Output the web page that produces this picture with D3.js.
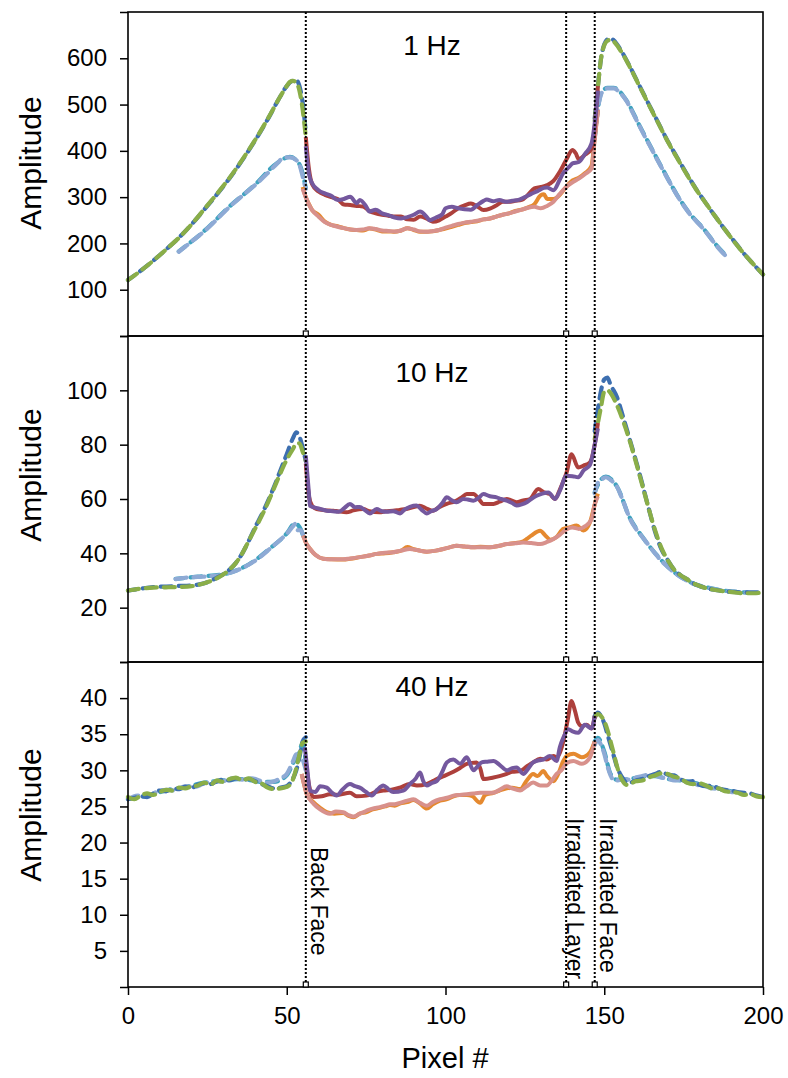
<!DOCTYPE html>
<html><head><meta charset="utf-8">
<script src="https://cdn.jsdelivr.net/npm/d3@7"></script>
<style>body{margin:0;background:#fff}svg{display:block}text{font-family:"Liberation Sans",Arial,sans-serif;fill:#000}</style>
</head><body>
<script>
// ---------- data ----------
const pixelTicks = [0, 50, 100, 150, 200];
const ampTicks1 = [100, 200, 300, 400, 500, 600];
const ampTicks2 = [20, 40, 60, 80, 100];
const ampTicks3 = [5, 10, 15, 20, 25, 30, 35, 40];
const panelTitles = ["1 Hz", "10 Hz", "40 Hz"];
const markerPixels = [56, 138, 147];
const markerLabels = ["Back Face", "Irradiated Layer", "Irradiated Face"];
const G = [null, null]; // gap marker

// 1 Hz
const blue1 = [[0,121],[4,141],[8,163],[12,187],[16,212],[20,241],[24,273],[28,306],[32,341],[36,380],[40,422],[44,468],[48,518],[50,540],[52,552],[53,553],[54,540],[55,505],[56,440],G,
 [147,470],[148,540],[149,600],[150,630],[151,641],[152,643],[153,639],[155,620],[158,583],[161,542],[164,501],[167,461],[170,421],[173,385],[176,350],[179,317],[182,287],[185,258],[188,230],[191,204],[194,178],[197,155],[200,133]];
const green1 = [[0,121],[4,141],[8,163],[12,187],[16,212],[20,241],[24,274],[28,307],[32,342],[36,381],[40,423],[44,469],[48,518],[50,540],[51,549],[52,551],[53,548],[54,530],[55,490],[56,430],G,
 [147,465],[148,538],[149,600],[150,628],[151,638],[152,640],[153,636],[155,618],[158,582],[161,541],[164,500],[167,460],[170,420],[173,384],[176,349],[179,316],[182,287],[185,258],[188,230],[191,203],[194,178],[197,155],[200,133]];
const light1 = [[16,182],[20,204],[24,226],[28,252],[32,279],[36,303],[40,326],[44,352],[47,373],[49,385],[51,386],[53,380],[54,370],[55,345],[56,318],G,
 [147,425],[148,490],[149,522],[150,532],[151,535],[153,535],[155,525],[157,508],[159,482],[161,455],[163,428],[165,403],[167,377],[169,352],[171,327],[173,303],[175,282],[177,263],[179,248],[181,233],[183,216],[185,198],[187,182],[188,175]];
const teal1 = [[16,183],[24,227],[32,280],[40,327],[47,374],[51,387],[54,371],[56,320],G,
 [147,428],[149,524],[151,536],[153,536],[157,509],[161,456],[165,404],[169,353],[173,304],[177,264],[181,234],[185,199],[188,176]];
const red1 = [[56,430],[57,360],[58,328],[60,312],[62,305],[64,300],[66,296],[68,284],[70,283],[72,281],[74,280],[76,270],[78,265],[80,262],[82,260],[84,258],[86,258],[88,252],[90,251],[92,258],[94,254],[96,247],[98,250],[100,258],[102,266],[104,276],[106,282],[108,286],[110,280],[112,272],[114,275],[116,282],[118,290],[120,290],[122,292],[124,294],[126,305],[128,319],[130,322],[132,326],[134,335],[136,355],[138,380],[140,402],[141,395],[142,382],[144,392],[146,405],[147,450],[148,540]];
const purple1 = [[56,410],[57,350],[58,330],[60,315],[62,308],[64,303],[66,294],[68,296],[70,301],[72,287],[73,294],[75,280],[76,269],[78,273],[80,265],[82,261],[84,256],[86,254],[88,257],[90,262],[92,269],[94,258],[95,250],[97,256],[99,263],[100,276],[102,279],[104,276],[106,274],[108,273],[110,283],[112,292],[113,295],[115,291],[117,294],[119,290],[121,292],[123,294],[125,300],[127,307],[129,313],[131,320],[132,321],[134,315],[136,338],[137,351],[139,366],[140,373],[142,376],[144,394],[146,416],[147,460],[148,530]];
const orange1 = [[55,322],[56,300],[57,285],[58,272],[60,262],[62,247],[64,240],[66,237],[68,233],[70,230],[72,229],[74,228],[76,232],[78,230],[80,226],[82,226],[84,225],[86,228],[88,233],[90,229],[92,225],[94,225],[96,226],[98,229],[100,232],[102,236],[104,240],[106,244],[108,246],[110,248],[112,252],[114,254],[116,258],[118,262],[120,265],[122,270],[124,273],[126,278],[128,285],[130,304],[131,306],[132,296],[134,296],[136,305],[138,322],[140,336],[142,342],[144,352],[146,368],[147,430],[148,488]];
const pink1 = [[55,318],[56,300],[57,284],[58,272],[60,258],[62,246],[64,240],[66,236],[68,233],[70,230],[72,229],[74,230],[76,233],[78,231],[80,228],[82,227],[84,226],[86,228],[88,233],[90,230],[92,226],[94,225],[96,227],[98,229],[100,234],[102,238],[104,242],[106,245],[108,247],[110,249],[112,252],[114,254],[116,258],[118,262],[120,265],[122,269],[124,273],[126,277],[128,279],[130,276],[132,281],[134,290],[136,307],[138,322],[140,332],[142,340],[144,350],[146,362],[147,425],[148,488]];

// 10 Hz
const blue10 = [[0,26.3],[4,27],[8,27.6],[12,27.8],[16,28],[20,28.2],[24,29],[28,31],[31,33.1],[34,36.5],[36,40],[38,44.5],[40,49.5],[42,54],[44,59],[46,64.5],[48,70.5],[50,76.5],[52,82.5],[53,84.5],[54,83],[55,79],[56,74],G,
 [147,85],[148,93],[149,100],[150,104],[151,104.7],[152,102],[154,97.5],[156,90],[158,82],[160,74],[162,65.5],[164,56.5],[166,48],[168,41.5],[170,37.5],[172,34],[174,32],[176,30.5],[178,29],[180,28],[182,27.2],[185,26.5],[188,26],[191,25.8],[194,25.6],[197,25.6],[200,25.8]];
const green10 = [[0,26.3],[4,27],[8,27.4],[12,27.5],[16,27.6],[20,27.9],[24,29],[28,30.8],[31,33.1],[34,36.5],[36,40],[38,44.5],[40,49],[42,53.5],[44,58.5],[46,64],[48,69.5],[50,74.5],[52,78.5],[53,80.5],[54,80.5],[55,77.5],[56,74],G,
 [147,82],[148,88],[149,94],[150,99.5],[151,100],[152,99],[154,94.5],[156,88.5],[158,81.5],[160,73.5],[162,65],[164,56.5],[166,48.5],[168,42],[170,37.5],[172,34],[174,32],[176,30.5],[178,29],[180,28],[182,27.2],[185,26.5],[188,26],[191,25.6],[194,25.3],[197,25.3],[200,25.6]];
const light10 = [[15,30.5],[18,31],[22,31.3],[26,31.6],[30,32.2],[34,33.6],[38,35.8],[42,39],[45,42],[48,45],[50,47.2],[52,50],[52.6,50.8],[53.5,48.5],[54.5,48.5],[55.5,45],G,
 [147,62],[148,66],[149,67],[150.5,68],[152,67],[154,64.5],[156,59],[158,53],[160,49],[162,46],[164,43],[166,40],[168,37.2],[170,35],[172,33],[174,31.3],[176,30],[178,28.8],[180,28],[183,27.2],[186,26.5],[189,26],[192,25.7],[195,25.5]];
const teal10 = [[15,30.6],[22,31.4],[30,32.3],[38,35.9],[45,42.1],[50,47.3],[52.6,51],[54.5,48.6],[55.5,45.2],G,
 [147,62.5],[149,67.2],[150.5,68.2],[154,64.6],[158,53.2],[162,46.1],[166,40.1],[170,35.1],[174,31.4],[178,28.9],[183,27.3],[189,26.1],[195,25.6]];
const red10 = [[56,73],[57,61],[58,57.5],[59.4,56.3],[62,55.9],[64.7,55.7],[66,55.5],[68.8,55.1],[71,55.8],[74.1,56.3],[76,55.5],[79.3,55.1],[81,55.5],[83.5,55.7],[85.5,56],[87.7,56.3],[90,57],[91.9,57.5],[94,56.5],[96.1,55.7],[98,57],[100.4,58.2],[103.5,59.4],[105,60.5],[106.7,61.8],[108.8,61.8],[110.5,60],[111.9,58.2],[115.1,58.2],[117,59],[119.3,60],[122.4,58.8],[124.5,59.5],[126.6,60],[129.2,63.7],[131,62.5],[132.9,61.8],[134.5,60],[136.1,63.7],[138.2,70],[139.7,76.5],[141.8,71.6],[143.5,72.3],[145.5,73.5],[147,80],[148,88]];
const purple10 = [[56,76],[57,62],[57.3,57.5],[60,56.5],[62.6,55.7],[64.5,55.5],[66.3,55.3],[68,56.5],[69.9,58.2],[71.5,57],[73,57.1],[74.5,56],[76.2,54.7],[78.3,56.3],[80,55.5],[81.5,55.3],[83.5,55.5],[85.7,54.7],[87,56],[88.8,57.1],[90.9,57.6],[92.5,56],[94.1,54.7],[95.5,55.5],[97.2,56.3],[99,58.5],[100.4,60.6],[102,59.5],[103.5,58.8],[105.6,60],[107,59.8],[108.8,59.4],[110.5,60.5],[111.9,61.8],[114,61],[116.1,60.6],[117.5,60],[119.3,59.4],[121,58.5],[122.4,57.6],[124,58],[125.6,58.8],[127,60],[128.7,61.2],[130.5,62],[132.4,62.4],[134.5,60],[136,63],[138.1,68.6],[140,68.4],[141.8,68],[143.5,70.5],[145.5,72.5],[147,80],[148,86]];
const orange10 = [[55.2,46.5],[56,44],[57.3,41.7],[59,39.5],[61.5,38],[64,37.8],[67.8,37.7],[70,38],[73,38.6],[76,39.2],[78.3,39.8],[81,40],[83.5,40.4],[86,41],[88,42.3],[90,41.5],[92,41],[94.1,40.6],[97,41],[99.3,41.6],[101.5,42.3],[103.5,42.8],[106,42.5],[108.8,42.2],[111,42.4],[114,42.2],[117,42.8],[119.3,43.4],[122,43.8],[124,44.2],[125.6,45.3],[127,46.5],[129.8,48.3],[131.5,46.5],[133,45],[135,46],[137.1,49],[139,49.5],[141.3,50.2],[143.5,48.4],[145.5,51.4],[147,58],[148,62]];
const pink10 = [[55.2,46.5],[56,44],[57.3,41.7],[59,39.5],[61.5,38],[64,37.8],[67.8,37.8],[70,38.1],[73,38.6],[76,39.2],[78.3,39.8],[81,40.2],[83.5,40.4],[86,41],[88.8,41.6],[91,41.2],[94.1,40.6],[97,41],[99.3,41.6],[101.5,42.3],[103.5,42.8],[106,42.5],[108.8,42.2],[111,42.2],[114,42.2],[117,42.8],[119.3,43.4],[122,43.7],[124.5,44],[127,43.8],[129.8,43.4],[132,44.2],[134,45.3],[136,46.8],[138.2,48.9],[140,49.5],[142,49],[144,50],[146,52.5],[147,58],[148,61]];

// 40 Hz
const blue40 = [[0,26],[2,26.2],[4,26.4],[6,26.3],[8,26.8],[10,27.2],[12,27.1],[14,27.5],[16,27.4],[18,27.7],[20,27.6],[22,28],[24,28.2],[26,28.1],[28,28.5],[30,28.7],[32,28.6],[34,28.9],[36,28.7],[38,28.8],[40,28.5],[42,28.1],[44,27.8],[46,27.5],[48,27.6],[50,27.8],[51,28.2],[52,28.9],[53,30],[54,31.8],[55,34],[56,34.6],G,
 [147,37.5],[148,38],[149,37.5],[150,36.5],[151,35],[152,33.5],[153,32],[154,30.5],[155,29.5],[156,28.8],[157,28.3],[158,28.3],[160,28.6],[162,28.8],[164,29.2],[166,29.5],[168,29.8],[170,29.4],[172,29.3],[174,28.8],[176,28.4],[178,28.5],[180,28],[182,27.8],[184,27.9],[186,27.5],[188,27.3],[190,27.2],[192,27],[194,26.9],[196,26.8],[198,26.5],[200,26.3]];
const green40 = [[0,26.3],[2,26],[4,26.5],[6,26.8],[8,26.6],[10,27],[12,27.3],[14,27.2],[16,27.6],[18,27.5],[20,27.8],[22,27.9],[24,28.3],[26,28],[28,28.6],[30,28.4],[32,28.8],[34,29],[36,28.6],[38,28.9],[40,28.4],[42,28.2],[44,27.6],[46,27.4],[48,27.5],[50,27.7],[51,28],[52,28.8],[53,30.3],[54,32.2],[55,33.8],[56,34],G,
 [147,37.3],[148,37.8],[149,37.5],[150,36.8],[151,35.6],[152,34],[153,32.3],[154,30.6],[155,29.2],[156,28.4],[157,28],[158,28.1],[160,28.5],[162,28.6],[164,29],[166,29.3],[168,29.6],[170,29.5],[172,29.1],[174,28.9],[176,28.3],[178,28.1],[180,28.2],[182,27.9],[184,27.5],[186,27.5],[188,27.1],[190,27],[192,26.9],[194,26.6],[196,26.7],[198,26.4],[200,26.3]];
const light40 = [[0,26],[3,26.5],[6,26.4],[9,27],[12,27.3],[15,27.2],[18,27.8],[21,27.7],[24,28.2],[27,28.4],[30,28.5],[33,28.9],[36,28.7],[39,28.9],[42,28.5],[44,28.3],[46,28.5],[48,28.9],[50,29.5],[51,30.3],[52,31.3],[53,32.2],[54,32],[55,31.5],[56,30],G,
 [147,33.5],[148,34.2],[149,33.5],[150,32.3],[151,30.6],[152,29.3],[153,28.6],[154,28.6],[156,28.8],[158,28.7],[160,29],[162,29.2],[164,29.4],[166,29.3],[168,29],[170,28.9],[172,28.6],[174,28.7],[176,28.3],[178,28.2],[180,27.9],[182,27.8],[184,27.5],[186,27.5],[188,27.2],[190,27],[192,26.9]];
const teal40 = [[0,26.1],[6,26.5],[12,27.2],[18,27.7],[24,28.3],[30,28.6],[36,28.8],[42,28.4],[46,28.4],[50,29.3],[52,31],[54,32.6],[55,33.8],[56,31],G,
 [147,34],[148,34.5],[150,32.6],[152,29.5],[154,28.7],[158,28.8],[162,29.1],[166,29.2],[170,28.8],[174,28.6],[178,28.3],[182,27.9],[186,27.4],[190,27.1],[192,26.9]];
const red40 = [[56,31],[57,28],[58.4,26.3],[61,26.4],[63.6,26.7],[66,26.6],[69.9,26.9],[72,26.4],[75.1,26.5],[78,27],[80.4,27.2],[83,27.3],[85.6,27.6],[88.8,28.1],[91,27.9],[94,28.1],[96,28.5],[98.3,29],[100,29.3],[102.5,29.8],[104.5,30.3],[106.7,30.9],[109.8,31.1],[111,30.2],[111.9,28.8],[115.1,29],[117,29.2],[119.3,29.5],[121,29.8],[123.5,29.9],[125.5,30.5],[127.6,31.1],[129.8,31.6],[131.9,31.5],[134,32],[135,31.8],[137.1,34],[138.5,37],[139.7,39.6],[140.8,38.2],[141.8,36.6],[143,36.1],[144.4,36.3],[146,35.8],[147,37.5]];
const purple40 = [[55.7,33.2],[56.5,30],[57.3,27.2],[59,27],[60.5,27.8],[62.6,27.6],[64,27],[65.7,26.5],[67.5,27.3],[69.9,28.1],[71.5,27.8],[73,27.6],[75,27],[76.8,26.5],[78.5,27.3],[80.4,27.9],[82,27.4],[83.5,27],[86.7,27.2],[88.8,28.1],[90.5,28.8],[92,29.7],[93,28.5],[94.1,27.9],[95.5,28.2],[97.2,28.5],[99,29.8],[100.4,31.1],[102.5,31.5],[104.6,30.9],[106.7,31.8],[108.8,30],[110,30.5],[111.4,31.1],[113,31.2],[115.1,31.3],[117.2,30.7],[119.3,30],[121,30.3],[122.4,30.4],[124.5,29.5],[126,30.2],[127.6,31.1],[129.5,31.4],[130.8,31.5],[132.9,32],[135,31.3],[136,33.2],[137.1,34.5],[138.7,35.7],[140,35.4],[141.8,35.2],[143.9,36.3],[146,35.8],[147,37.5]];
const orange40 = [[54.7,29.5],[55.5,28],[56.3,26.7],[58.4,25.6],[60.5,24.8],[62.6,24.2],[65,24],[67.8,24.1],[69.5,23.7],[71,23.5],[73,24],[75.1,24.2],[77,24.6],[79.3,24.8],[81,25],[82.5,25.2],[84,25.1],[85.6,25.4],[88,25.6],[89.9,25.9],[92,25.4],[94.1,24.7],[96,25.3],[98.3,25.8],[100.5,26],[102.5,26.4],[104.5,26.6],[106.7,26.6],[108.5,26.4],[110.9,25.5],[112.5,26.6],[115.1,26.9],[117,27.2],[119.3,27.5],[121,27.6],[123.5,27.4],[125.6,28.6],[127.6,29.5],[129,29.2],[130.8,29.9],[132,29.2],[134,28.5],[135.5,29.5],[137.1,31.3],[138.2,32],[140.3,32.3],[142.9,31.8],[145.5,32.5],[147,34]];
const pink40 = [[54.7,29.5],[55.5,28],[56.3,26.7],[58.4,25.4],[60.5,24.6],[63.6,24],[65.5,24.3],[67.8,24.2],[69.5,23.8],[71,23.6],[73,24],[75.1,24.4],[77,24.7],[79.3,24.9],[81,25.1],[82.5,25.3],[84,25.3],[85.6,25.5],[88,25.8],[89.9,26],[92,25.5],[94.1,25.1],[96,25.6],[98.3,26],[100.5,26.2],[102.5,26.5],[104.5,26.6],[106.7,26.7],[108.8,26.8],[110.9,26.9],[113,26.9],[115.1,26.9],[117,27.3],[119.3,27.8],[121,27.5],[123.5,27.2],[125.6,27.8],[127.6,28.3],[129.8,27.9],[131.9,27.9],[133.5,28.6],[135,29.5],[136.5,30],[138.2,31],[140.3,31.3],[142.9,30.9],[145.5,31.8],[147,34]];

// ---------- layout ----------
const W = 788, H = 1078;
const X0 = 128, X1 = 763;
const panels = [
  {title: panelTitles[0], max: 700, ticks: ampTicks1, top: 12, bottom: 336, labelY: 163, titleY: 45,
   series: {blue: blue1, green: green1, teal: teal1, light: light1, red: red1, purple: purple1, orange: orange1, pink: pink1}},
  {title: panelTitles[1], max: 120, ticks: ampTicks2, top: 336, bottom: 662, labelY: 475, titleY: 372,
   series: {blue: blue10, green: green10, teal: teal10, light: light10, red: red10, purple: purple10, orange: orange10, pink: pink10}},
  {title: panelTitles[2], max: 45, ticks: ampTicks3, top: 662, bottom: 987, labelY: 815, titleY: 686,
   series: {blue: blue40, green: green40, teal: teal40, light: light40, red: red40, purple: purple40, orange: orange40, pink: pink40}}
];
const styles = [
  {key: "teal", color: "#3fa3c0", dash: "11,7", off: 3},
  {key: "light", color: "#8eaad5", dash: "11,7", off: 0},
  {key: "blue", color: "#3d6fb0", dash: "11,7", off: 3},
  {key: "green", color: "#8aae48", dash: "11,7", off: 0},
  {key: "orange", color: "#e5892f", dash: null},
  {key: "pink", color: "#d8918c", dash: null},
  {key: "red", color: "#ad403c", dash: null},
  {key: "purple", color: "#74589e", dash: null}
];

const svg = d3.select("body").append("svg").attr("width", W).attr("height", H);
const x = d3.scaleLinear().domain([0, 200]).range([X0, X1]);

panels.forEach((p, i) => {
  const y = d3.scaleLinear().domain([0, p.max]).range([p.bottom, p.top]);
  const g = svg.append("g");
  const line = d3.line().defined(d => d[1] != null).x(d => x(d[0])).y(d => y(d[1])).curve(d3.curveMonotoneX);
  styles.forEach(s => {
    g.append("path").datum(p.series[s.key])
      .attr("d", line).attr("fill", "none").attr("stroke", s.color)
      .attr("stroke-width", s.dash ? 4.2 : 4).attr("stroke-linejoin", "round").attr("stroke-linecap", s.dash ? "round" : "butt")
      .attr("stroke-dasharray", s.dash).attr("stroke-dashoffset", s.off || 0);
  });
  // left axis
  const ax = d3.axisLeft(y).tickValues(d3.range(0, p.max + 1, p.ticks[1] - p.ticks[0])).tickSize(8).tickPadding(13)
    .tickFormat(d => p.ticks.includes(d) ? d : "");
  const ag = svg.append("g").attr("transform", `translate(${X0},0)`).call(ax);
  ag.select(".domain").remove();
  ag.selectAll("line").attr("stroke", "#000").attr("stroke-width", 1.5);
  ag.selectAll("text").attr("font-size", 24).attr("font-family", "Liberation Sans, Arial, sans-serif").attr("fill", "#000");
  // frame
  svg.append("rect").attr("x", X0).attr("y", p.top).attr("width", X1 - X0).attr("height", p.bottom - p.top)
    .attr("fill", "none").attr("stroke", "#000").attr("stroke-width", 1.6);
  // title
  svg.append("text").attr("x", 432).attr("y", p.titleY).attr("text-anchor", "middle").attr("dominant-baseline", "central")
    .attr("font-size", 28).text(p.title);
  svg.append("text").attr("transform", `translate(30,${p.labelY}) rotate(-90)`).attr("text-anchor", "middle")
    .attr("dominant-baseline", "central").attr("font-size", 30).text("Amplitude");
});

// bottom axis
const bx = d3.axisBottom(x).tickValues(pixelTicks).tickSize(8).tickPadding(12);
const bg = svg.append("g").attr("transform", `translate(0,${panels[2].bottom})`).call(bx);
bg.select(".domain").remove();
bg.selectAll("line").attr("stroke", "#000").attr("stroke-width", 1.5);
bg.selectAll("text").attr("font-size", 24).attr("font-family", "Liberation Sans, Arial, sans-serif").attr("fill", "#000");
svg.append("text").attr("x", 445).attr("y", 1058).attr("text-anchor", "middle").attr("dominant-baseline", "central")
  .attr("font-size", 29).text("Pixel #");

// marker lines
markerPixels.forEach((m, i) => {
  svg.append("line").attr("x1", x(m)).attr("x2", x(m)).attr("y1", panels[0].top).attr("y2", panels[2].bottom)
    .attr("stroke", "#000").attr("stroke-width", 2).attr("stroke-dasharray", "2,2");
  panels.forEach(p => {
    svg.append("rect").attr("x", x(m) - 2.5).attr("y", p.bottom - 5).attr("width", 5).attr("height", 5)
      .attr("fill", "#fff").attr("stroke", "#000").attr("stroke-width", 1.2);
  });
});
const labelPos = [[311, 847], [567, 818], [600, 818]];
markerLabels.forEach((t, i) => {
  svg.append("text").attr("transform", `translate(${labelPos[i][0]},${labelPos[i][1]}) rotate(90)`)
    .attr("font-size", 23).text(t);
});
</script>
</body></html>
